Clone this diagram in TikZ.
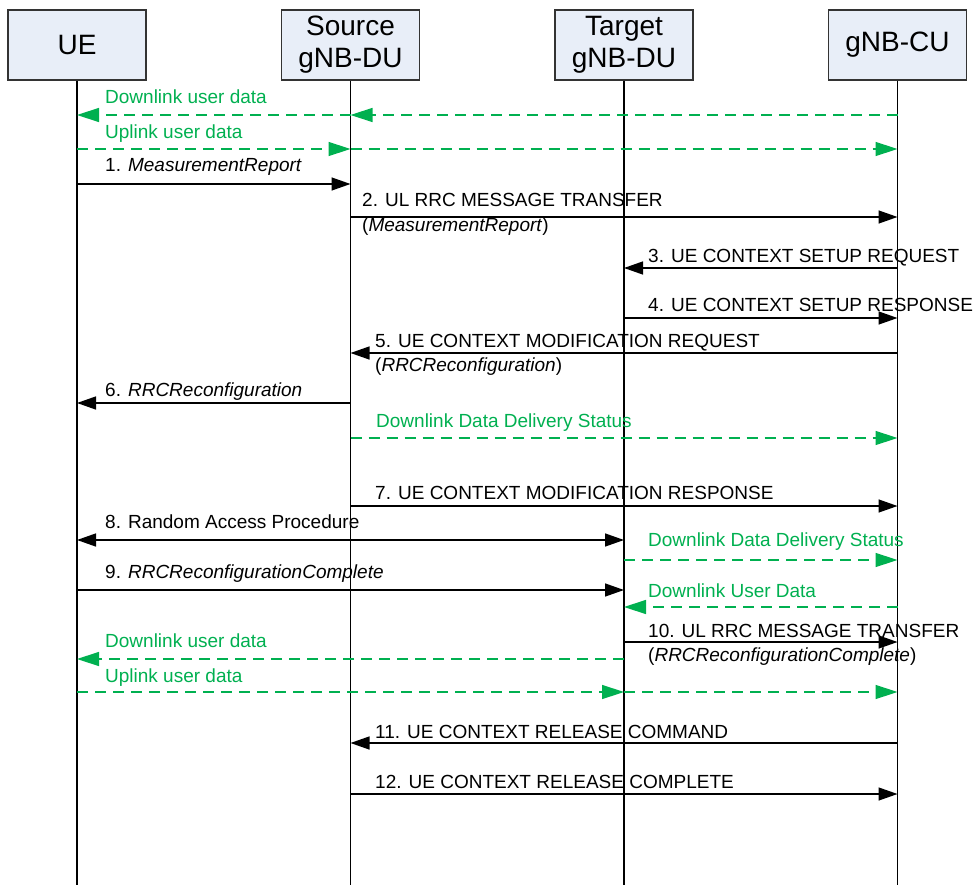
\documentclass[tikz,border=0pt]{standalone}
\usepackage{fontspec}
\setmainfont{Liberation Sans}
\usetikzlibrary{arrows.meta,positioning}
\definecolor{boxblue}{HTML}{E8EEF8}
\definecolor{dgreen}{HTML}{00B050}
\tikzset{
	entity/.style={draw=black!80, fill=boxblue, line width=1.5pt, minimum width=138pt, minimum height=70pt, inner sep=0pt, align=center, font=\fontsize{28}{32}\selectfont},
	life/.style={line width=1.4pt},
	msg/.style={line width=1.4pt, -{Triangle[length=19pt,width=13pt]}},
	dmsg/.style={line width=1.4pt, dgreen, dash pattern=on 11pt off 7pt, -{Triangle[length=22pt,width=14pt]}},
	lbl/.style={anchor=base west, inner sep=0pt, font=\fontsize{19}{25}\selectfont},
	glbl/.style={lbl, text=dgreen},
}
\begin{document}
\begin{tikzpicture}[x=1pt,y=-1pt]
			\useasboundingbox (0,0) rectangle (974,885);
			\node[entity] (ue) at (77,45) {UE};
			\node[entity] (src) [right=134pt of ue] {Source\\gNB-DU};
			\node[entity] (tgt) [right=134pt of src] {Target\\gNB-DU};
			\node[entity] (cu) [right=134pt of tgt] {gNB-CU};
			\coordinate (bottom) at (0,885);
			\foreach \n in {ue,src,tgt,cu}{
				\draw [life] (\n.south)--(\n |- bottom);
			}
			% user data through source
			\draw [dmsg] (cu |- 0,115)--(src |- 0,115);
			\draw [dmsg] (src |- 0,115)--(ue |- 0,115);
			\node[glbl] (dl1) at (105,104) {Downlink user data};
			\draw [dmsg] (ue |- 0,149)--(src |- 0,149);
			\draw [dmsg] (src |- 0,149)--(cu |- 0,149);
			\node[glbl] (ul1) at (105,139) {Uplink user data};
			% signalling
			\draw [msg] (ue |- 0,184)--(src |- 0,184);
			\node[lbl] (l1) at (105,172) {1. \textit{MeasurementReport}};
			\draw [msg] (src |- 0,217)--(cu |- 0,217);
			\node[lbl] (l2) at (362,207) {2. UL RRC MESSAGE TRANSFER};
			\node[lbl] (l2b) at (362,232) {(\textit{MeasurementReport})};
			\draw [msg] (cu |- 0,268)--(tgt |- 0,268);
			\node[lbl] (l3) at (648,262) {3. UE CONTEXT SETUP REQUEST};
			\draw [msg] (tgt |- 0,318)--(cu |- 0,318);
			\node[lbl] (l4) at (648,312) {4. UE CONTEXT SETUP RESPONSE};
			\draw [msg] (cu |- 0,353)--(src |- 0,353);
			\node[lbl] (l5) at (375,347) {5. UE CONTEXT MODIFICATION REQUEST};
			\node[lbl] (l5b) at (375,371) {(\textit{RRCReconfiguration})};
			\draw [msg] (src |- 0,403)--(ue |- 0,403);
			\node[lbl] (l6) at (105,396) {6. \textit{RRCReconfiguration}};
			\draw [dmsg] (src |- 0,438)--(cu |- 0,438);
			\node[glbl] (dds1) at (376,427) {Downlink Data Delivery Status};
			\draw [msg] (src |- 0,506)--(cu |- 0,506);
			\node[lbl] (l7) at (375,499) {7. UE CONTEXT MODIFICATION RESPONSE};
			\draw [line width=1.4pt, {Triangle[length=19pt,width=13pt]}-{Triangle[length=19pt,width=13pt]}] (ue |- 0,540)--(tgt |- 0,540);
			\node[lbl] (l8) at (105,528) {8. Random Access Procedure};
			\draw [dmsg] (tgt |- 0,560)--(cu |- 0,560);
			\node[glbl] (dds2) at (648,546) {Downlink Data Delivery Status};
			\draw [msg] (ue |- 0,590)--(tgt |- 0,590);
			\node[lbl] (l9) at (105,578) {9. \textit{RRCReconfigurationComplete}};
			\draw [dmsg] (cu |- 0,607)--(tgt |- 0,607);
			\node[glbl] (dud) at (648,597) {Downlink User Data};
			\draw [msg] (tgt |- 0,642)--(cu |- 0,642);
			\node[lbl] (l10) at (648,637) {10. UL RRC MESSAGE TRANSFER};
			\node[lbl] (l10b) at (648,661) {(\textit{RRCReconfigurationComplete})};
			% user data through target
			\draw [dmsg] (tgt |- 0,659)--(ue |- 0,659);
			\node[glbl] (dl2) at (105,647) {Downlink user data};
			\draw [dmsg] (ue |- 0,692)--(tgt |- 0,692);
			\draw [dmsg] (tgt |- 0,692)--(cu |- 0,692);
			\node[glbl] (ul2) at (105,682) {Uplink user data};
			% release
			\draw [msg] (cu |- 0,743)--(src |- 0,743);
			\node[lbl] (l11) at (375,738) {11. UE CONTEXT RELEASE COMMAND};
			\draw [msg] (src |- 0,794)--(cu |- 0,794);
			\node[lbl] (l12) at (375,788) {12. UE CONTEXT RELEASE COMPLETE};
\end{tikzpicture}
\end{document}
